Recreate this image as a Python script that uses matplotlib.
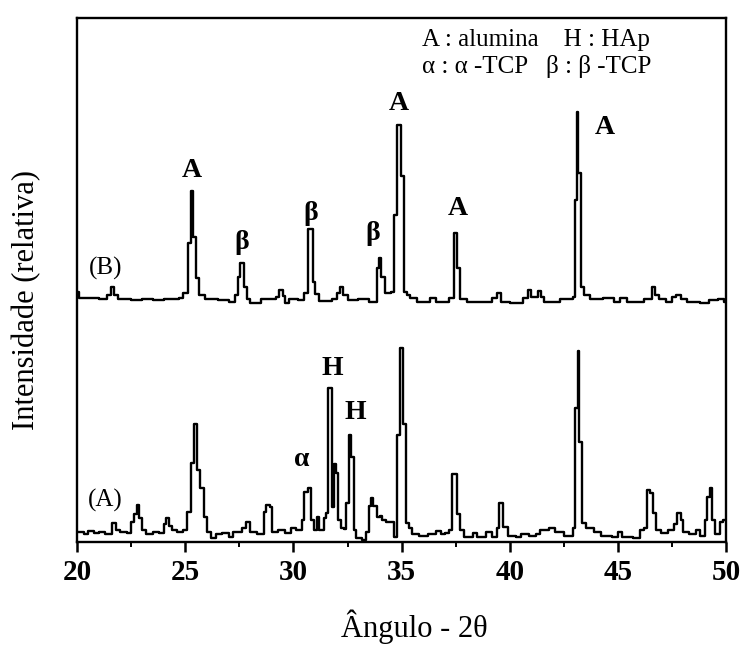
"""XRD patterns of alumina / HAp composites (A and B), stepped traces."""
import matplotlib
matplotlib.use('Agg')
import matplotlib.pyplot as plt
from matplotlib.ticker import MultipleLocator

plt.rcParams['font.family'] = ['Liberation Serif', 'DejaVu Serif']

# pattern (A), relative intensity (arb.)
angle_a = [20.0, 20.3, 20.5, 20.8, 21.0, 21.3, 21.6, 21.8, 22.0, 22.3,
           22.5, 22.65, 22.75, 22.85, 23.0, 23.2, 23.5, 23.8, 24.0, 24.1,
           24.25, 24.4, 24.6, 24.9, 25.1, 25.25, 25.4, 25.55, 25.7, 25.85,
           26.0, 26.2, 26.4, 26.7, 27.0, 27.2, 27.6, 27.8, 28.0, 28.3,
           28.65, 28.75, 28.9, 29.0, 29.3, 29.6, 29.9, 30.1, 30.4, 30.5,
           30.65, 30.8, 30.95, 31.1, 31.2, 31.4, 31.5, 31.6, 31.78, 31.88,
           31.98, 32.08, 32.2, 32.35, 32.45, 32.58, 32.68, 32.78, 32.9, 33.15,
           33.35, 33.5, 33.6, 33.7, 33.85, 34.0, 34.1, 34.3, 34.65, 34.8,
           34.93, 35.07, 35.18, 35.35, 35.5, 35.8, 36.2, 36.6, 36.8, 37.0,
           37.2, 37.35, 37.55, 37.7, 37.9, 38.3, 38.5, 38.9, 39.2, 39.4,
           39.5, 39.7, 39.9, 40.3, 40.5, 40.9, 41.2, 41.4, 41.8, 42.1,
           42.5, 42.9, 43.02, 43.13, 43.22, 43.35, 43.5, 43.9, 44.2, 44.7,
           45.0, 45.2, 45.7, 46.0, 46.2, 46.35, 46.5, 46.6, 46.75, 47.0,
           47.3, 47.6, 47.75, 47.9, 48.0, 48.3, 48.6, 48.8, 49.0, 49.1,
           49.25, 49.35, 49.5, 49.7, 49.85, 50.0]
inten_a = [10, 8, 11, 9, 10, 8, 19, 12, 10, 9,
           20, 28, 37, 24, 12, 8, 10, 9, 18, 24,
           16, 12, 10, 12, 30, 79, 118, 72, 54, 25,
           10, 4, 8, 9, 5, 10, 14, 20, 10, 8,
           30, 37, 35, 10, 12, 9, 14, 12, 22, 50,
           54, 22, 12, 25, 12, 24, 29, 154, 35, 78,
           69, 22, 14, 13, 39, 107, 85, 12, 4, 2,
           10, 36, 44, 36, 25, 26, 22, 20, 5, 107,
           194, 118, 19, 14, 8, 6, 8, 11, 8, 9,
           12, 68, 28, 12, 5, 9, 5, 10, 5, 14,
           39, 15, 6, 5, 8, 6, 8, 12, 14, 10,
           6, 14, 134, 191, 100, 19, 14, 10, 6, 5,
           10, 5, 4, 12, 14, 52, 49, 29, 12, 9,
           12, 18, 29, 22, 10, 8, 12, 6, 22, 45,
           54, 22, 8, 20, 22, 22]

# pattern (B), relative intensity (arb.), drawn with a vertical offset
angle_b = [20.0, 20.1, 21.0, 21.4, 21.55, 21.7, 21.9, 22.5, 23.0, 23.5,
           24.0, 24.7, 24.9, 25.15, 25.25, 25.35, 25.5, 25.65, 25.9, 26.5,
           27.0, 27.3, 27.45, 27.55, 27.7, 27.85, 28.0, 28.5, 29.2, 29.35,
           29.5, 29.6, 29.8, 30.2, 30.5, 30.65, 30.9, 31.0, 31.2, 31.8,
           32.0, 32.15, 32.3, 32.5, 33.0, 33.5, 33.85, 33.95, 34.05, 34.25,
           34.5, 34.65, 34.8, 34.95, 35.1, 35.25, 35.4, 35.7, 36.3, 36.6,
           37.2, 37.4, 37.55, 37.7, 38.0, 38.6, 39.2, 39.4, 39.6, 40.0,
           40.6, 40.85, 41.0, 41.3, 41.45, 41.6, 42.3, 42.9, 43.0, 43.12,
           43.17, 43.3, 43.45, 43.7, 44.3, 44.8, 45.1, 45.4, 46.2, 46.55,
           46.7, 46.9, 47.2, 47.5, 47.7, 47.9, 48.2, 48.8, 49.2, 49.6,
           49.9, 50.0]
inten_b = [15, 9, 8, 12, 20, 12, 8, 7, 8, 7,
           8, 9, 14, 64, 116, 70, 29, 12, 8, 7,
           5, 12, 30, 44, 20, 8, 4, 8, 10, 17,
           11, 4, 8, 7, 14, 78, 25, 13, 6, 8,
           14, 20, 12, 7, 8, 5, 39, 49, 30, 14,
           15, 92, 182, 131, 15, 12, 9, 5, 9, 5,
           9, 74, 39, 8, 5, 5, 9, 14, 5, 4,
           9, 17, 10, 16, 10, 5, 8, 10, 107, 195,
           134, 20, 12, 8, 9, 5, 9, 5, 8, 20,
           12, 8, 5, 10, 12, 8, 5, 4, 7, 8,
           5, 5]
OFFSET_B = 235

# peak annotations: (label, angle, height)
labels_a = [('H', 31.8, 174), ('H', 32.85, 130), ('\u03b1', 30.4, 83)]
labels_b = [('A', 25.3, 372), ('\u03b2', 27.6, 300), ('\u03b2', 30.8, 329),
            ('\u03b2', 33.65, 309), ('A', 34.85, 439), ('A', 37.6, 334),
            ('A', 44.4, 415)]


def main() -> None:
    fig = plt.figure(figsize=(7.41, 6.5), dpi=100)
    ax = fig.add_axes([0.104, 0.166, 0.876, 0.806])

    ax.plot(angle_a, inten_a, drawstyle='steps-post', color='black', lw=1.7)
    ax.plot(angle_b, [v + OFFSET_B for v in inten_b], drawstyle='steps-post',
            color='black', lw=1.7)

    for txt, x, y in labels_a + labels_b:
        ax.text(x, y, txt, ha='center', va='center', fontsize=20,
                fontweight='bold')

    ax.text(21.3, 42, '(A)', ha='center', va='center', fontsize=18)
    ax.text(21.3, 274, '(B)', ha='center', va='center', fontsize=18)

    ax.text(0.532, 0.958, 'A : alumina    H : HAp', transform=ax.transAxes,
            ha='left', va='center', fontsize=18)
    ax.text(0.532, 0.908, '\u03b1 : \u03b1 -TCP   \u03b2 : \u03b2 -TCP',
            transform=ax.transAxes, ha='left', va='center', fontsize=18)

    ax.set_xlim(20, 50)
    ax.set_ylim(0, 524)
    ax.xaxis.set_major_locator(MultipleLocator(5))
    ax.xaxis.set_minor_locator(MultipleLocator(2.5))
    ax.tick_params(axis='x', which='major', direction='out', length=7,
                   width=1.8, labelsize=21, pad=5)
    ax.tick_params(axis='x', which='minor', direction='out', length=3.5,
                   width=1.4)
    for lab in ax.get_xticklabels():
        lab.set_fontweight('bold')
    ax.set_yticks([])
    for sp in ax.spines.values():
        sp.set_linewidth(1.7)

    fig.text(414.5 / 741, 1 - 627 / 650, '\u00c2ngulo - 2\u03b8',
             ha='center', va='center', fontsize=22)
    fig.text(27 / 741, 1 - 300 / 650, 'Intensidade (relativa)',
             rotation=90, ha='center', va='center', fontsize=22)

    fig.savefig('out.png', dpi=100)
    plt.close(fig)


if __name__ == '__main__':
    main()
